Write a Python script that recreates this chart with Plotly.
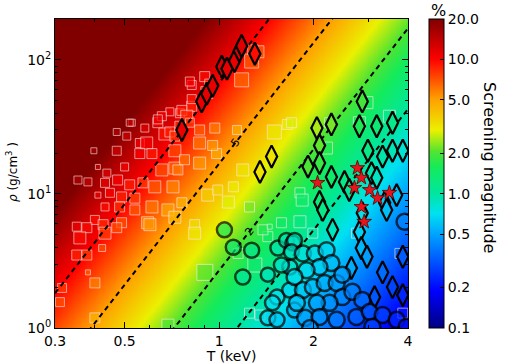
import numpy as np
import plotly.graph_objects as go

# ---- screening model used for the background field (S% = A*sqrt(rho)*T^-1.5)
A_SCREEN = 1.22
contour_levels = [10, 5, 2, 1]
contour_labels = {5: (1.13, "5"), 2: (1.25, "2")}

cbar_ticks = [0.1, 0.2, 0.5, 1, 2, 5, 10, 20]
cbar_ticktext = ["0.1", "0.2", "0.5", "1.0", "2.0", "5.0", "10.0", "20.0"]
x_ticks = [0.3, 0.5, 1, 2, 4]
x_ticktext = ["0.3", "0.5", "1", "2", "4"]
x_minor = [0.4, 0.6, 0.7, 0.8, 0.9, 3]
y_ticks = [1, 10, 100]
y_ticktext = ["10<sup>0</sup>", "10<sup>1</sup>", "10<sup>2</sup>"]
y_minor = [2, 3, 4, 5, 6, 7, 8, 9, 20, 30, 40, 50, 60, 70, 80, 90, 200]

# ---- squares (white edged)
squares_T = [0.697, 0.750, 0.527, 0.472, 0.399, 0.580, 0.638, 0.508, 0.559, 0.472,
             0.588, 0.672, 0.559, 0.611, 0.657, 0.723, 0.723, 0.411, 0.439, 0.500,
             0.355, 0.382, 0.433, 0.475, 0.519, 0.572, 0.624, 0.713, 0.411, 0.449,
             0.489, 0.539, 0.433, 0.482, 0.539, 0.611, 0.687, 0.723, 0.352, 0.402,
             0.489, 0.592, 0.379, 0.427, 0.433, 0.360, 0.352, 0.379, 0.424, 0.382,
             0.402, 0.316, 0.311, 0.402, 0.472, 0.602, 0.687, 0.818, 0.900, 0.914,
             0.818, 1.18, 1.14, 0.761, 0.750, 0.789, 0.657, 0.638, 0.697, 0.723,
             0.519, 0.867, 0.867, 0.776, 0.867, 0.982, 0.739, 1.19, 1.27, 1.33,
             0.807, 0.818, 0.934, 1.04, 0.969, 0.807, 1.50, 1.65, 0.954, 2.96,
             3.49, 2.80, 2.20, 1.28, 1.07, 1.25, 0.836, 0.836, 0.901, 1.30,
             1.15, 1.43, 1.58, 1.38, 1.45, 1.25, 1.35, 1.70, 2.25, 1.81,
             1.84, 1.81, 1.99, 2.74, 3.77, 3.85, 0.761, 0.920, 0.99, 1.11]
squares_rho = [41, 40, 34, 29, 21, 31, 34, 27, 24, 21,
               24, 28, 20, 20, 15.1, 15.6, 21, 15.9, 14.3, 15.9,
               12.7, 12.3, 12.1, 12.7, 11.7, 12.1, 11.3, 11.3, 9.8, 10.2,
               9.5, 9.3, 8.0, 8.0, 7.6, 8.0, 7.6, 6.7, 5.7, 6.4,
               6.1, 6.1, 5.6, 5.9, 5.1, 4.7, 3.5, 3.5, 3.95, 2.6,
               2.17, 1.99, 1.56, 1.19, 5.6, 5.9, 1.05, 65, 75, 57,
               45, 71, 30, 42, 32, 38, 38, 36, 29, 27,
               34, 24, 30, 18, 17, 20, 15.1, 15.1, 98, 115,
               69, 51, 66, 83, 31, 34, 29, 33, 23, 48,
               38, 34, 22, 119, 8.7, 8.0, 5.9, 5.1, 2.6, 2.95,
               3.6, 4.8, 6.1, 5.4, 5.7, 1.29, 1.25, 34, 34, 10.2,
               9.0, 6.2, 5.1, 5.1, 3.6, 1.29, 8.6, 9.8, 10.7, 11.3]
squares_size = [8, 9, 7, 7, 6, 8, 10, 8, 9, 9,
                12, 12, 10, 10, 12, 12, 12, 5, 8, 8,
                8, 8, 9, 10, 10, 10, 12, 12, 6, 9,
                10, 10, 8, 10, 10, 12, 12, 12, 9, 9,
                10, 12, 10, 10, 12, 12, 10, 10, 7, 5,
                10, 9, 9, 10, 10, 12, 12, 9, 10, 12,
                10, 14, 9, 10, 10, 12, 9, 9, 10, 10,
                7, 12, 10, 10, 12, 10, 10, 12, 14, 12,
                9, 9, 10, 10, 10, 9, 14, 10, 10, 12,
                12, 12, 12, 10, 12, 10, 10, 12, 16, 14,
                10, 10, 10, 10, 5, 10, 10, 10, 10, 10,
                12, 12, 10, 10, 10, 10, 10, 12, 10, 10]

# ---- thin diamonds (black edged)
diamonds_T = [0.761, 0.880, 0.914, 0.954, 1.02, 1.06, 1.12, 1.16, 1.18, 1.30,
              2.86, 2.05, 2.28, 2.80, 3.18, 3.57, 2.09, 1.47, 1.35, 1.92,
              2.09, 2.98, 3.32, 3.57, 3.85, 2.28, 2.51, 3.06, 3.18, 2.09,
              2.14, 3.37, 2.60, 2.30, 2.80, 2.84, 2.96, 2.64, 3.32, 3.57,
              3.13, 3.85, 3.42, 3.85, 2.86, 3.68]
diamonds_rho = [30, 49, 56, 64, 89, 86, 98, 117, 127, 111,
                49, 31, 33, 32, 32, 34, 23, 19, 14.6, 16,
                17, 21, 19, 21, 21, 13.4, 12.3, 14.3, 13.2, 8.7,
                7.6, 8.6, 10.7, 5.4, 5.2, 3.95, 3.4, 2.8, 2.6, 2.02,
                1.70, 1.76, 7.6, 3.4, 7.2, 9.8]

# ---- circles (black edged)
circles_T = [1.04, 1.11, 1.27, 1.19, 1.43, 1.54, 1.64, 1.72, 1.68, 1.58,
             1.53, 1.68, 1.48, 1.43, 1.53, 1.74, 1.74, 1.70, 1.85, 2.02,
             2.20, 2.28, 2.09, 1.90, 1.74, 1.85, 1.99, 2.17, 2.37, 2.47,
             2.47, 2.66, 2.86, 2.25, 2.05, 1.77, 1.88, 2.09, 2.37, 2.74,
             3.02, 3.32, 3.68, 3.08, 1.95, 3.96, 3.90]
circles_rho = [5.4, 4.0, 3.8, 2.4, 2.5, 3.95, 4.5, 4.3, 2.85, 2.95,
               1.70, 1.92, 1.54, 1.19, 1.15, 1.36, 4.5, 3.7, 3.6, 3.6,
               3.8, 3.05, 2.85, 2.7, 2.4, 1.92, 2.02, 2.17, 2.17, 2.5,
               1.70, 1.86, 1.62, 1.54, 1.54, 1.54, 1.19, 1.21, 1.15, 1.21,
               1.32, 1.25, 1.15, 1.02, 1.0, 1.02, 6.2]
circles_size = [15, 15, 15, 15, 14, 15, 15, 15, 15, 15,
                15, 15, 15, 15, 15, 15, 15, 15, 16, 16,
                16, 16, 16, 16, 16, 16, 16, 16, 16, 16,
                16, 16, 16, 16, 16, 16, 16, 16, 16, 16,
                16, 16, 16, 16, 16, 16, 16]

# ---- stars
stars_T = [2.06, 2.76, 2.84, 2.70, 3.02, 3.20, 3.49, 2.84, 2.90]
stars_rho = [12.1, 15.6, 13.2, 11.1, 10.7, 9.3, 10.2, 8.0, 6.2]

# per-group screening response (exponent, scale) used for marker fills
group_response = {"squares": (0.9, 1.0), "diamonds": (1.0, 1.1), "circles": (0.7, 0.8)}

CMIN, CMAX = np.log10(0.1), np.log10(20)


def screening(T, rho):
    return A_SCREEN * np.sqrt(np.asarray(rho, float)) * np.asarray(T, float) ** -1.5


def cval(T, rho, group):
    p, c = group_response[group]
    v = c * screening(T, rho) ** p
    return np.clip(np.log10(v), CMIN, CMAX).tolist()


colorscale = [
    [0.0, "rgb(0,0,130)"],
    [0.12, "rgb(0,0,255)"],
    [0.30, "rgb(0,160,255)"],
    [0.37, "rgb(0,225,240)"],
    [0.435, "rgb(0,230,160)"],
    [0.52, "rgb(20,235,90)"],
    [0.57, "rgb(80,228,50)"],
    [0.64, "rgb(235,240,0)"],
    [0.74, "rgb(255,160,0)"],
    [0.87, "rgb(255,0,0)"],
    [1.0, "rgb(128,0,0)"],
]

X_RANGE = [np.log10(0.3), np.log10(4)]
Y_RANGE = [0, 2.305]

Tg = np.logspace(X_RANGE[0] - 0.01, X_RANGE[1] + 0.01, 220)
Rg = np.logspace(Y_RANGE[0] - 0.01, Y_RANGE[1] + 0.01, 200)
TT, RR = np.meshgrid(Tg, Rg)
Z = np.clip(np.log10(screening(TT, RR)), CMIN, CMAX)

fig = go.Figure()
fig.add_trace(go.Heatmap(x=Tg.tolist(), y=Rg.tolist(), z=Z.tolist(),
                         coloraxis="coloraxis", zsmooth="best", hoverinfo="skip"))

fig.add_trace(go.Scatter(
    x=squares_T, y=squares_rho, mode="markers",
    marker=dict(symbol="square", size=squares_size,
                color=cval(squares_T, squares_rho, "squares"),
                coloraxis="coloraxis", line=dict(color="rgba(255,235,235,0.85)", width=1.0)),
    showlegend=False))

Tl = np.array([0.2, 6.0])
for lev in contour_levels:
    fig.add_trace(go.Scatter(x=Tl.tolist(), y=((lev / A_SCREEN) ** 2 * Tl ** 3).tolist(),
                             mode="lines",
                             line=dict(color="black", width=2, dash="5px,4px"),
                             showlegend=False, hoverinfo="skip"))

fig.add_trace(go.Scatter(
    x=diamonds_T, y=diamonds_rho, mode="markers",
    marker=dict(symbol="diamond-tall", size=16,
                color=cval(diamonds_T, diamonds_rho, "diamonds"),
                coloraxis="coloraxis", line=dict(color="black", width=2.2)),
    showlegend=False))

fig.add_trace(go.Scatter(
    x=circles_T, y=circles_rho, mode="markers",
    marker=dict(symbol="circle", size=circles_size,
                color=cval(circles_T, circles_rho, "circles"),
                coloraxis="coloraxis", line=dict(color="black", width=2.5)),
    showlegend=False))

fig.add_trace(go.Scatter(
    x=stars_T, y=stars_rho, mode="markers",
    marker=dict(symbol="star", size=11, color="#e8141c",
                line=dict(color="#5a0000", width=0.8)),
    showlegend=False))

for lev, (t, txt) in contour_labels.items():
    r = (lev / A_SCREEN) ** 2 * t ** 3
    fig.add_annotation(x=np.log10(t), y=np.log10(r), text=txt, showarrow=False,
                       xanchor="center", yanchor="middle",
                       textangle=-53, font=dict(size=11, color="black"))

fig.update_layout(
    width=505, height=364,
    margin=dict(l=55, r=97, t=19, b=36, autoexpand=False),
    paper_bgcolor="white", plot_bgcolor="white",
    font=dict(family="DejaVu Sans", size=14, color="black"),
    coloraxis=dict(
        colorscale=colorscale, cmin=CMIN, cmax=CMAX,
        colorbar=dict(
            x=1.0595, xanchor="left", xpad=0, ypad=0, y=0.5, yanchor="middle",
            len=1, lenmode="fraction", thickness=15, thicknessmode="pixels",
            outlinewidth=1, outlinecolor="black",
            tickvals=np.log10(cbar_ticks).tolist(), ticktext=cbar_ticktext,
            ticks="inside", ticklen=4, tickcolor="black",
            tickfont=dict(family="DejaVu Sans", size=14),
        ),
    ),
    xaxis=dict(type="log", range=X_RANGE, tickvals=x_ticks, ticktext=x_ticktext,
               ticks="inside", ticklen=6, tickcolor="black", showgrid=False,
               showline=True, linecolor="black", linewidth=1, mirror="allticks",
               zeroline=False, automargin=False,
               minor=dict(tickvals=x_minor, ticks="inside", ticklen=3,
                          tickcolor="black", showgrid=False),
               title=dict(text="T (keV)", standoff=4, font=dict(size=14))),
    yaxis=dict(type="log", range=Y_RANGE, tickvals=y_ticks, ticktext=y_ticktext,
               ticks="inside", ticklen=6, tickcolor="black", showgrid=False,
               showline=True, linecolor="black", linewidth=1, mirror="allticks",
               zeroline=False, automargin=False,
               minor=dict(tickvals=y_minor, ticks="inside", ticklen=3,
                          tickcolor="black", showgrid=False)),
)

fig.add_annotation(xref="paper", yref="paper", x=(12 - 55) / 353, y=(328 - 172) / 309,
                   xanchor="center", yanchor="middle",
                   text="<i>ρ</i> (g/cm<sup>3</sup> )", showarrow=False, textangle=-90,
                   font=dict(size=12))
fig.add_annotation(xref="paper", yref="paper", x=(438 - 55) / 353, y=(328 - 10) / 309,
                   xanchor="center", yanchor="middle",
                   text="%", showarrow=False, font=dict(size=16))
fig.add_annotation(xref="paper", yref="paper", x=(490 - 55) / 353, y=(328 - 167) / 309,
                   xanchor="center", yanchor="middle",
                   text="Screening magnitude", showarrow=False, textangle=90,
                   font=dict(size=16))

fig.write_html("out.html", config={"displayModeBar": False},
               post_script="document.body.style.margin='0';document.body.style.padding='0';")
